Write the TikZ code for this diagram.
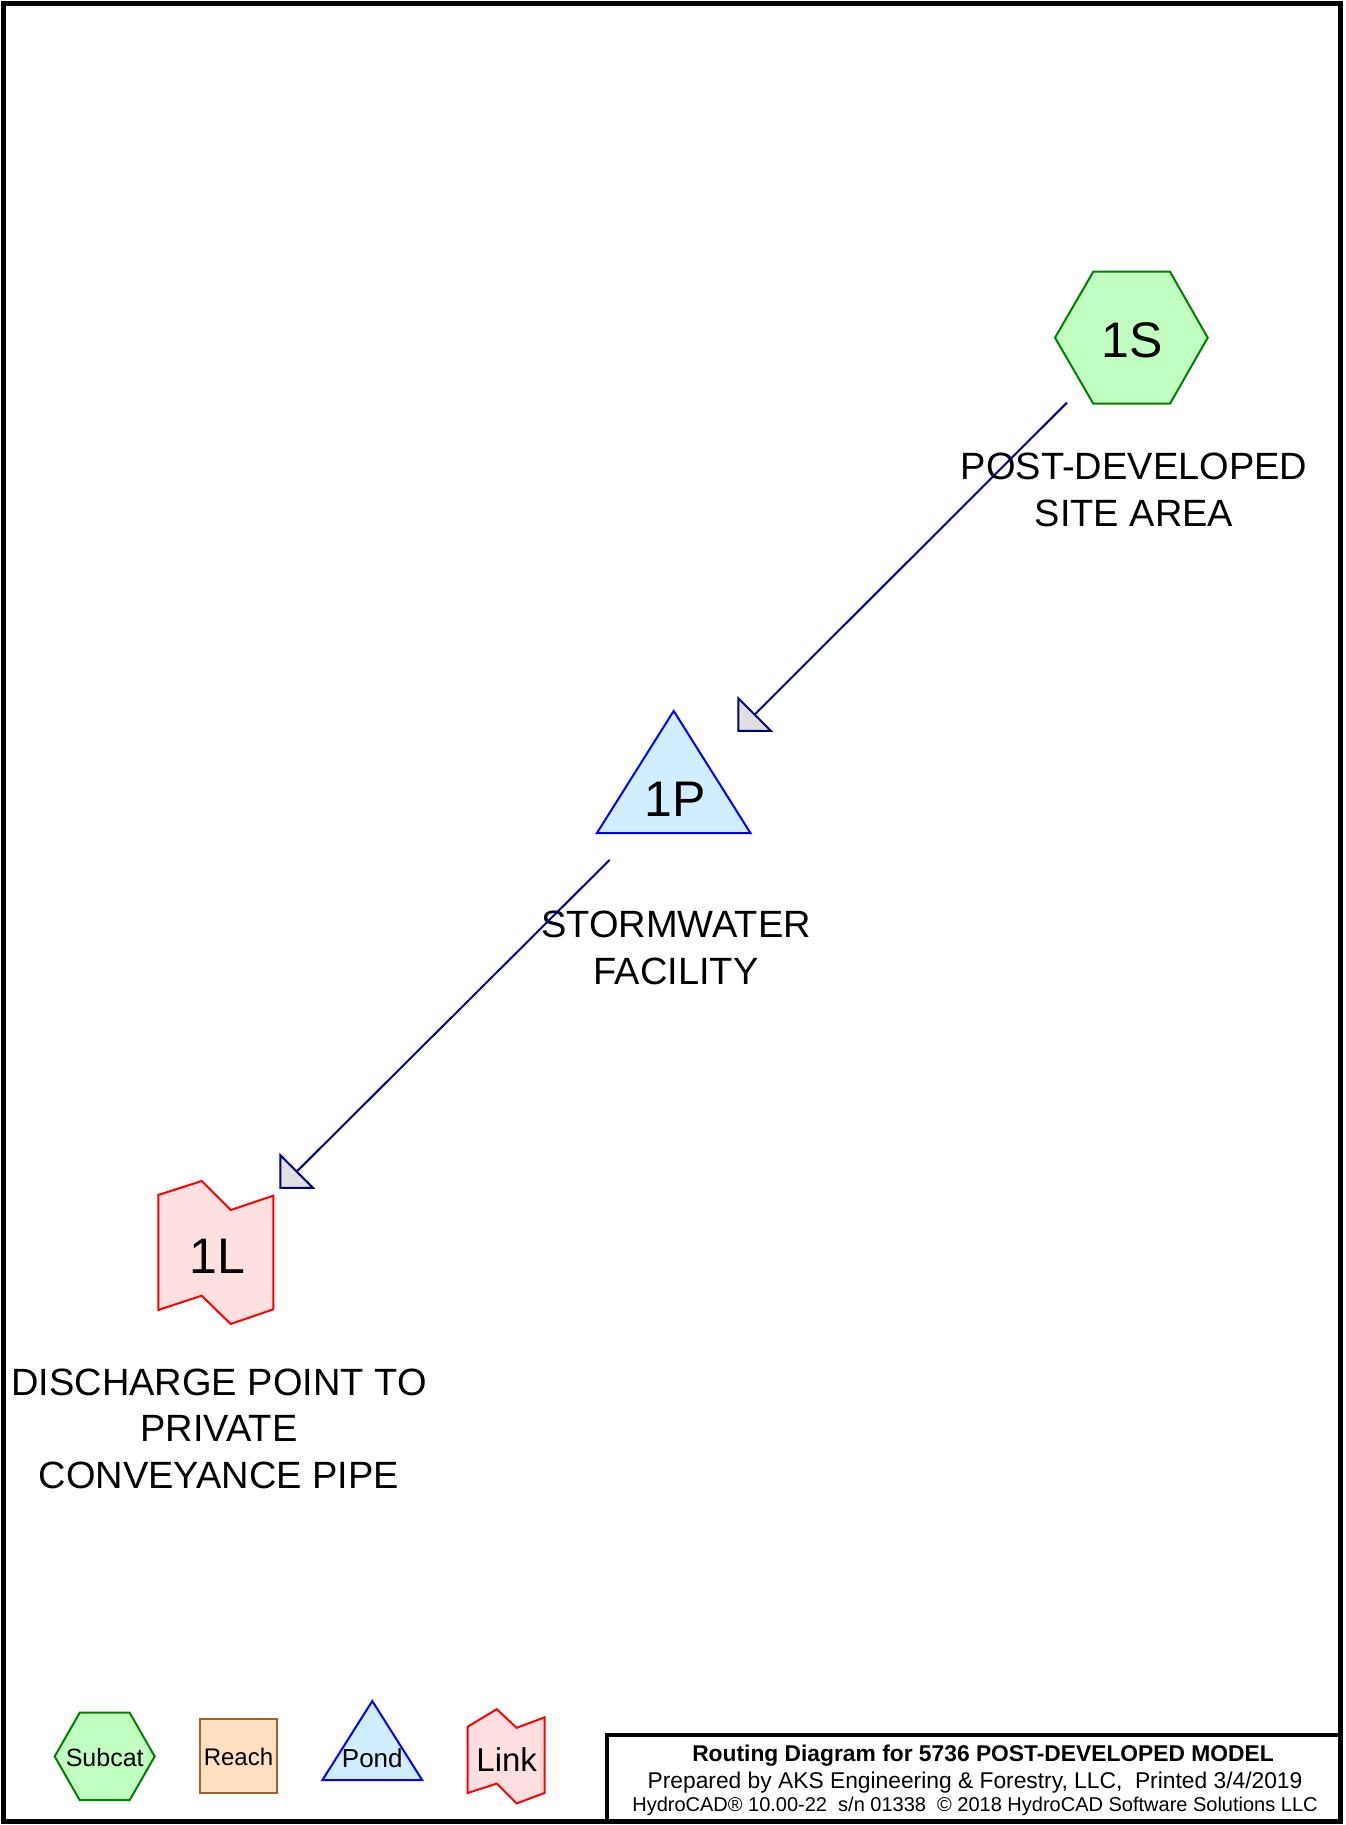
\documentclass[tikz,border=0pt]{standalone}
\usepackage{fontspec}
\setmainfont{Liberation Sans}
\definecolor{hexfill}{HTML}{C0FFC0}
\definecolor{hexline}{HTML}{008000}
\definecolor{pondfill}{HTML}{D0EEFF}
\definecolor{pondline}{HTML}{0000FF}
\definecolor{linkfill}{HTML}{FFE0E0}
\definecolor{linkline}{HTML}{FF0000}
\definecolor{reachfill}{HTML}{FFE0C0}
\definecolor{reachline}{HTML}{A06030}
\definecolor{arrline}{HTML}{000080}
\definecolor{headfill}{HTML}{E0E0E0}
\begin{document}
\begin{tikzpicture}[x=1pt,y=-1pt,
  hexs/.style={draw=hexline, fill=hexfill, line width=2pt},
  ponds/.style={draw=pondline, fill=pondfill, line width=2pt},
  links/.style={draw=linkline, fill=linkfill, line width=2pt},
  reachs/.style={draw=reachline, fill=reachfill, line width=2pt},
  flow/.style={draw=arrline, line width=2pt},
  ahead/.style={draw=arrline, fill=headfill, line width=2pt},
  idtxt/.style={inner sep=0pt, anchor=base, font=\fontsize{50}{58}\selectfont},
  lbl/.style={inner sep=0pt, anchor=base, align=center, font=\fontsize{38}{46.5}\selectfont},
  legtxt/.style={inner sep=0pt, anchor=base},
  ttl/.style={inner sep=0pt, anchor=base}]
\useasboundingbox (0,0) rectangle (1345,1825);
\draw[line width=5pt] (3.5,3.5) rectangle (1340.5,1821.5);

% 1S subcatchment
\draw[hexs] (1055,337.7) -- (1093.3,271.7) -- (1170,271.7) -- (1207.7,337.7) -- (1170,403.7) -- (1093.3,403.7) -- cycle;
\node[idtxt] (s1) at (1132.3,357) {1S};
\node[lbl] (s1lbl) at (1134,526) {POST-DEVELOPED\\SITE AREA};

% 1P pond
\draw[ponds] (673.7,710.9) -- (596.9,833.1) -- (750.5,833.1) -- cycle;
\node[idtxt] (p1) at (674.8,816) {1P};
\node[lbl] (p1lbl) at (676,984.3) {STORMWATER\\FACILITY};

% 1L link
\draw[links] (158.3,1195) -- (201.7,1181) -- (230.7,1210) -- (273.3,1195.7) -- (273.3,1309.3) -- (230.7,1324) -- (201.7,1295.7) -- (158.3,1310) -- cycle;
\node[idtxt] (l1) at (217.3,1273) {1L};
\node[lbl] (l1lbl) at (219,1488) {DISCHARGE POINT TO\\PRIVATE\\CONVEYANCE PIPE};

% connectors
\coordinate (s1out) at (1067,402.6);
\coordinate (p1in) at (754.6,714.6);
\coordinate (p1out) at (609.7,859.8);
\coordinate (l1in) at (296.7,1171.6);
\draw[flow] (s1out) -- (p1in);
\draw[flow] (p1out) -- (l1in);
\filldraw[ahead, shift={(p1in)}] (-16.35,-16.35) -- (-16.35,16.35) -- (16.35,16.35) -- cycle;
\filldraw[ahead, shift={(l1in)}] (-16.35,-16.35) -- (-16.35,16.35) -- (16.35,16.35) -- cycle;

% legend
\draw[hexs] (54.7,1756.4) -- (79.7,1712.7) -- (129.7,1712.7) -- (154.7,1756.4) -- (129.7,1800.1) -- (79.7,1800.1) -- cycle;
\node[legtxt, font=\fontsize{25}{30}\selectfont] (legs) at (104.7,1766) {Subcat};
\draw[reachs] (200.1,1718.5) rectangle (276.9,1793);
\node[legtxt, font=\fontsize{24}{29}\selectfont] (legr) at (238.5,1765) {Reach};
\draw[ponds] (372.3,1701) -- (322.3,1780.2) -- (422.3,1780.2) -- cycle;
\node[legtxt, font=\fontsize{26}{31}\selectfont] (legp) at (372.3,1767) {Pond};
\draw[links] (467.7,1726.7) -- (496.8,1709.2) -- (516.6,1727.8) -- (544.5,1717.4) -- (544.5,1793) -- (516.6,1803.4) -- (496.8,1783.6) -- (467.7,1793) -- cycle;
\node[legtxt, font=\fontsize{33}{39}\selectfont] (legl) at (506.7,1771) {Link};

% title block
\draw[line width=4pt] (607,1735) rectangle (1340.5,1821.5);
\node[ttl, font=\bfseries\fontsize{22.8}{27}\selectfont] (t1) at (983,1761.5) {Routing Diagram for 5736 POST-DEVELOPED MODEL};
\node[ttl, font=\fontsize{22.8}{27}\selectfont] (t2) at (975,1788) {Prepared by AKS Engineering \& Forestry, LLC,\ \ Printed 3/4/2019};
\node[ttl, font=\fontsize{20}{24}\selectfont] (t3) at (975,1811) {HydroCAD® 10.00-22\ \ s/n 01338\ \ © 2018 HydroCAD Software Solutions LLC};
\end{tikzpicture}
\end{document}
